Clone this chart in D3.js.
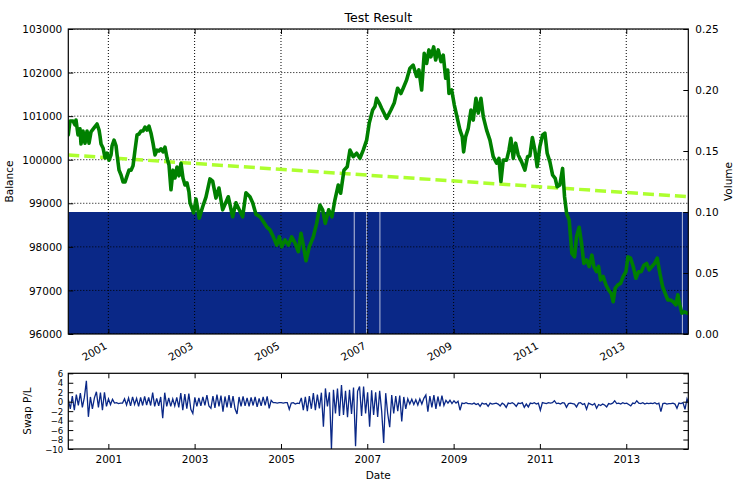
<!DOCTYPE html>
<html><head><meta charset="utf-8">
<script src="https://cdn.jsdelivr.net/npm/d3@7"></script>
<style>
body{margin:0;background:#fff;}
svg{display:block;font-family:"DejaVu Sans",sans-serif;}
</style></head><body>
<svg id="c" width="739" height="492"></svg>
<script>
// ---------- data ----------
const titleText = "Test Result";
const dateDomain = ["2000-01-28", "2014-06-10"];
const yearTicks = [2001, 2003, 2005, 2007, 2009, 2011, 2013];
const balanceTicks = [96000, 97000, 98000, 99000, 100000, 101000, 102000, 103000];
const volumeTicks = [0, 0.05, 0.10, 0.15, 0.20, 0.25];
const swapTicks = [-10, -8, -6, -4, -2, 0, 2, 4, 6];

const balanceYears = [2000.073,2000.113,2000.182,2000.229,2000.252,2000.298,2000.344,2000.368,2000.414,2000.460,2000.507,2000.553,2000.599,2000.669,2000.738,2000.785,2000.808,2000.831,2000.877,2000.924,2000.970,2001.016,2001.062,2001.086,2001.132,2001.178,2001.202,2001.248,2001.294,2001.341,2001.387,2001.433,2001.479,2001.526,2001.572,2001.618,2001.665,2001.711,2001.757,2001.804,2001.850,2001.896,2001.943,2001.989,2002.035,2002.082,2002.128,2002.174,2002.221,2002.267,2002.313,2002.360,2002.406,2002.452,2002.499,2002.545,2002.591,2002.638,2002.684,2002.730,2002.777,2002.823,2002.869,2002.893,2002.978,2003.032,2003.108,2003.187,2003.263,2003.356,2003.418,2003.495,2003.564,2003.650,2003.780,2003.882,2003.958,2004.035,2004.113,2004.190,2004.282,2004.345,2004.421,2004.514,2004.590,2004.669,2004.745,2004.822,2004.901,2004.961,2005.017,2005.093,2005.170,2005.248,2005.325,2005.401,2005.464,2005.517,2005.580,2005.656,2005.749,2005.827,2005.904,2005.966,2006.027,2006.105,2006.182,2006.251,2006.328,2006.383,2006.460,2006.536,2006.599,2006.675,2006.754,2006.830,2006.907,2006.986,2007.046,2007.125,2007.178,2007.217,2007.278,2007.333,2007.449,2007.549,2007.625,2007.704,2007.780,2007.833,2007.912,2007.989,2008.065,2008.144,2008.197,2008.260,2008.320,2008.376,2008.429,2008.475,2008.538,2008.584,2008.644,2008.707,2008.760,2008.816,2008.862,2008.892,2008.955,2009.015,2009.077,2009.147,2009.200,2009.232,2009.279,2009.339,2009.402,2009.455,2009.518,2009.571,2009.633,2009.687,2009.765,2009.842,2009.918,2009.997,2010.050,2010.097,2010.150,2010.229,2010.283,2010.328,2010.382,2010.437,2010.497,2010.576,2010.652,2010.715,2010.768,2010.826,2010.884,2010.937,2010.999,2011.063,2011.116,2011.169,2011.232,2011.294,2011.355,2011.401,2011.463,2011.526,2011.572,2011.619,2011.679,2011.741,2011.804,2011.850,2011.910,2011.966,2012.019,2012.082,2012.142,2012.205,2012.251,2012.313,2012.360,2012.406,2012.466,2012.529,2012.591,2012.652,2012.698,2012.744,2012.807,2012.869,2012.930,2012.992,2013.038,2013.101,2013.161,2013.224,2013.286,2013.347,2013.409,2013.472,2013.532,2013.595,2013.657,2013.717,2013.780,2013.842,2013.903,2013.965,2014.027,2014.088,2014.150,2014.196,2014.243,2014.289,2014.351,2014.413];
const balanceValues = [100570,100890,100890,100800,100910,100570,100710,100360,100660,100380,100660,100380,100640,100730,100820,100680,100540,100360,100270,100040,100150,99990,100110,100320,100450,100320,100110,99760,99650,99490,99490,99630,99760,99760,99860,100220,100570,100590,100660,100660,100750,100680,100770,100610,100380,100110,100220,100200,100250,100180,100290,100040,99880,99310,99760,99580,99830,99630,99920,99580,99420,99470,99260,99010,98780,99100,98660,98920,99140,99560,99510,99120,99350,98850,99150,98690,99010,98850,98690,99240,99150,99010,98750,98690,98580,98460,98390,98230,98040,98230,98000,98160,98040,98230,98090,97890,98310,98040,97680,98000,98230,98540,98960,98850,98540,98850,98690,99080,99420,99230,99760,99840,100220,100070,100150,100030,100220,100450,100840,101140,101220,101410,101300,101180,100950,101140,101300,101640,101520,101640,101830,102100,102170,101910,102060,101600,102440,102210,102520,102360,102590,102290,102520,102250,102400,101870,102060,101520,101600,101260,100990,100680,100530,100180,100530,100720,101140,100910,101410,101070,101410,100990,100680,100450,100070,99920,100030,99500,99990,99990,100220,100490,100030,100380,100110,99950,99760,100070,100090,100510,100220,99840,100300,100570,100610,100150,99950,99650,99570,99380,99420,99800,99150,98770,98620,97850,97770,98230,98450,98080,97620,97700,97550,97810,97550,97430,97550,97240,97320,97130,97010,96930,96740,97050,97130,97160,97320,97430,97770,97740,97550,97280,97430,97430,97580,97620,97470,97550,97620,97740,97390,97090,96930,96780,96780,96740,96670,96900,96670,96480,96510,96480];

const trendYears = [2000.073, 2014.435];
const trendValues = [100108, 99151];

const volumeLevel = 0.10;
const volumeGapYears = [2006.698, 2006.986, 2007.294, 2014.301];

const swapStart = "2000-01-28";
const swapStepDays = 17;
const swapValues = [
 0.5,-1.5,1.2,-1.8,1.5,-0.8,1.8,-1.2,0.9,4.4,
 -3.2,1.0,-1.5,0.8,2.1,-1.2,1.9,-1.8,2.0,-1.0,
 0.6,-0.6,0.5,-0.3,-0.2,-0.4,-0.3,-0.3,0.6,-0.7,
 0.8,-0.9,1.0,-0.6,0.7,-1.0,0.9,-0.8,1.1,-0.7,
 0.9,-0.8,1.9,-1.0,0.7,-0.9,1.0,-3.5,1.9,-1.0,
 0.8,-1.0,0.6,-0.9,0.9,-1.2,1.8,-1.8,1.6,-1.5,
 1.7,-1.6,-2.5,0.9,-1.0,0.8,-0.9,1.0,-0.8,1.4,
 -0.9,-1.4,1.2,-1.3,1.5,-1.0,1.3,-2.1,1.1,-1.2,
 1.4,-1.3,1.2,-1.5,-2.6,1.0,-1.0,1.1,-0.9,0.8,
 -1.0,0.9,-0.8,1.0,-1.1,0.7,-0.9,1.0,-0.8,1.1,
 -1.4,0.3,-0.2,-0.2,-0.3,-0.2,-0.2,-0.3,-0.2,-0.2,
 -1.6,-0.3,-0.2,-0.5,-0.3,-0.4,0.8,-1.8,1.0,-2.0,
 1.2,-1.5,1.8,-1.8,1.5,-1.4,1.9,-5.3,2.8,-1.0,
 2.0,-10,2.5,-2.5,2.8,-3.0,3.5,-2.8,2.3,-3.3,
 2.5,-2.6,3.0,-9.4,2.2,3.2,-3.0,3.2,-2.5,2.0,
 -5.3,2.4,-2.8,2.0,-3.2,2.3,-2.0,-8.7,1.8,-2.5,
 -5.4,1.4,-2.5,1.2,-2.0,1.3,-4.2,1.0,-1.5,0.6,
 -0.5,0.5,-0.6,0.4,-0.7,0.6,-0.5,0.7,1.4,-2.1,
 1.2,-1.2,1.4,-1.5,1.1,-1.0,1.3,-0.8,0.3,-0.3,
 0.3,-0.4,0.2,-0.3,0.1,-1.8,-0.3,-0.4,-0.2,-0.4,
 -0.4,-0.5,-0.3,-0.6,-0.4,-1.0,-0.3,-0.5,-0.4,-1.0,
 -0.3,-0.5,-0.4,-0.3,-0.5,-0.9,-0.3,-0.6,-1.2,-0.3,
 -0.4,-0.2,-0.5,-1.0,-0.3,-0.4,-0.2,-1.2,-0.5,-1.1,
 -0.3,-0.4,-0.2,-0.5,-0.3,-1.8,-0.2,-0.3,-0.4,-0.2,
 -0.3,-0.2,0.2,-0.4,-0.3,-0.5,-0.2,-0.3,-1.2,-0.4,
 -0.3,-0.4,-0.5,-1.1,-0.3,-0.2,-0.6,-0.4,-1.6,-0.3,
 -0.5,-0.7,-0.4,-1.4,-0.6,-0.8,-0.5,-0.7,-1.1,-0.4,
 -0.5,-0.3,0.2,-0.4,-0.3,-0.5,-0.2,-0.4,-0.3,-0.6,
 -0.9,-0.3,-0.4,0.2,-0.3,-0.4,-0.2,-0.5,-0.3,-0.4,
 -0.3,-0.4,-0.2,-0.5,-0.3,-2.1,-0.4,-0.3,-0.5,-0.4,
 -0.4,-0.3,-0.5,-1.4,-0.3,-0.4,-0.2,-1.6,0.6,-0.6
];

// ---------- helpers ----------
function yearToDate(y) {
  const Y = Math.floor(y);
  const s = Date.UTC(Y, 0, 1), e = Date.UTC(Y + 1, 0, 1);
  return new Date(s + (y - Y) * (e - s));
}
const parse = d3.utcParse("%Y-%m-%d");

// ---------- layout ----------
const L = 68.3, R = 688.3;
const mainTop = 29, mainBot = 334;
const subTop = 373.3, subBot = 449;
const BLUE = "#0a2887";
const FS = 10.5;
const FS_SWAP = 8.6;

const svg = d3.select("#c");
const x = d3.scaleUtc().domain(dateDomain.map(parse)).range([L, R]);
const yB = d3.scaleLinear().domain([96000, 103000]).range([mainBot, mainTop]);
const yV = d3.scaleLinear().domain([0, 0.25]).range([mainBot, mainTop]);
const yS = d3.scaleLinear().domain([-10, 6]).range([subBot, subTop]);
const yearDates = yearTicks.map(y => new Date(Date.UTC(y, 0, 1)));

const defs = svg.append("defs");
defs.append("clipPath").attr("id", "clipMain").append("rect")
  .attr("x", L).attr("y", mainTop).attr("width", R - L).attr("height", mainBot - mainTop);
defs.append("clipPath").attr("id", "clipSub").append("rect")
  .attr("x", L).attr("y", subTop).attr("width", R - L).attr("height", subBot - subTop);

// ---------- main panel ----------
const gMain = svg.append("g").attr("clip-path", "url(#clipMain)");

// volume bars (segments between gaps)
const bounds = [x.domain()[0], ...volumeGapYears.map(yearToDate), x.domain()[1]];
const segs = d3.pairs(bounds);
gMain.selectAll("rect.vol").data(segs).join("rect").attr("class", "vol")
  .attr("x", d => x(d[0])).attr("width", d => Math.max(0, x(d[1]) - x(d[0])))
  .attr("y", yV(volumeLevel)).attr("height", yV(0) - yV(volumeLevel))
  .attr("fill", BLUE);
gMain.selectAll("line.gap").data(volumeGapYears).join("line").attr("class", "gap")
  .attr("x1", d => x(yearToDate(d))).attr("x2", d => x(yearToDate(d)))
  .attr("y1", yV(volumeLevel)).attr("y2", yV(0))
  .attr("stroke", "#b3bad6").attr("stroke-width", 1);

// grid
gMain.selectAll("line.gx").data(yearDates).join("line").attr("class", "gx")
  .attr("x1", d => x(d)).attr("x2", d => x(d)).attr("y1", mainTop).attr("y2", mainBot)
  .attr("stroke", "#000").attr("stroke-width", 1).attr("stroke-dasharray", "1,2");
gMain.selectAll("line.gy").data(balanceTicks).join("line").attr("class", "gy")
  .attr("x1", L).attr("x2", R).attr("y1", d => yB(d)).attr("y2", d => yB(d))
  .attr("stroke", "#000").attr("stroke-width", 1).attr("stroke-dasharray", "1,2");

// trend
const trendLine = d3.line().x(d => x(yearToDate(d[0]))).y(d => yB(d[1]));
gMain.append("path").datum(d3.zip(trendYears, trendValues)).attr("d", trendLine)
  .attr("fill", "none").attr("stroke", "#adff2f").attr("stroke-width", 3.5)
  .attr("stroke-dasharray", "11,5");

// balance
gMain.append("path").datum(d3.zip(balanceYears, balanceValues)).attr("d", trendLine)
  .attr("fill", "none").attr("stroke", "#008000").attr("stroke-width", 3.6)
  .attr("stroke-linejoin", "round").attr("stroke-linecap", "round");

// axes
function styleAxis(g, fs) {
  g.select(".domain").remove();
  g.selectAll("line").attr("stroke", "#000");
  g.selectAll("text").attr("fill", "#000").attr("font-size", fs || FS).attr("font-family", "DejaVu Sans, sans-serif");
}
svg.append("g").attr("transform", `translate(${L},0)`)
  .call(d3.axisLeft(yB).tickValues(balanceTicks).tickFormat(d3.format("d")).tickSizeInner(-5).tickSizeOuter(0).tickPadding(6))
  .call(styleAxis).selectAll("text").attr("dy", "0.35em");
svg.append("g").attr("transform", `translate(${R},0)`)
  .call(d3.axisRight(yV).tickValues(volumeTicks).tickFormat(d3.format(".2f")).tickSizeInner(-5).tickSizeOuter(0).tickPadding(7))
  .call(styleAxis).selectAll("text").attr("dy", "0.35em");
const xb = svg.append("g").attr("transform", `translate(0,${mainBot})`)
  .call(d3.axisBottom(x).tickValues(yearDates).tickFormat(d3.utcFormat("%Y")).tickSizeInner(-5).tickSizeOuter(0))
  .call(styleAxis);
xb.selectAll("text").attr("y", 0).attr("dy", 0).attr("text-anchor", "end")
  .attr("transform", "translate(-1,14) rotate(-30)");
svg.append("g").attr("transform", `translate(0,${mainTop})`)
  .call(d3.axisTop(x).tickValues(yearDates).tickFormat("").tickSizeInner(-5).tickSizeOuter(0))
  .call(styleAxis);

svg.append("rect").attr("x", L).attr("y", mainTop).attr("width", R - L).attr("height", mainBot - mainTop)
  .attr("fill", "none").attr("stroke", "#000").attr("stroke-width", 1.2);

// ---------- sub panel ----------
const gSub = svg.append("g").attr("clip-path", "url(#clipSub)");
const s0 = parse(swapStart);
const swapData = swapValues.map((v, i) => [d3.utcDay.offset(s0, i * swapStepDays), v]);
gSub.append("path").datum(swapData)
  .attr("d", d3.line().x(d => x(d[0])).y(d => yS(d[1])))
  .attr("fill", "none").attr("stroke", BLUE).attr("stroke-width", 1.3).attr("stroke-linejoin", "miter");

svg.append("g").attr("transform", `translate(${L},0)`)
  .call(d3.axisLeft(yS).tickValues(swapTicks).tickFormat(d3.format("d")).tickSizeInner(-5).tickSizeOuter(0).tickPadding(5))
  .call(g => styleAxis(g, FS_SWAP)).selectAll("text").attr("dy", "0.35em");
svg.append("g").attr("transform", `translate(${R},0)`)
  .call(d3.axisRight(yS).tickValues(swapTicks).tickFormat("").tickSizeInner(-5).tickSizeOuter(0))
  .call(styleAxis);
svg.append("g").attr("transform", `translate(0,${subBot})`)
  .call(d3.axisBottom(x).tickValues(yearDates).tickFormat(d3.utcFormat("%Y")).tickSizeInner(-5).tickSizeOuter(0).tickPadding(6.5))
  .call(styleAxis);
svg.append("g").attr("transform", `translate(0,${subTop})`)
  .call(d3.axisTop(x).tickValues(yearDates).tickFormat("").tickSizeInner(-5).tickSizeOuter(0))
  .call(styleAxis);
svg.append("rect").attr("x", L).attr("y", subTop).attr("width", R - L).attr("height", subBot - subTop)
  .attr("fill", "none").attr("stroke", "#000").attr("stroke-width", 1.2);

// ---------- labels ----------
svg.append("text").attr("x", (L + R) / 2).attr("y", 21.7).attr("text-anchor", "middle")
  .attr("font-size", 12.6).text(titleText);
svg.append("text").attr("transform", "translate(13,181.5) rotate(-90)").attr("text-anchor", "middle")
  .attr("font-size", FS).text("Balance");
svg.append("text").attr("transform", "translate(731.5,181.5) rotate(-90)").attr("text-anchor", "middle")
  .attr("font-size", FS).text("Volume");
svg.append("text").attr("transform", "translate(30.5,411) rotate(-90)").attr("text-anchor", "middle")
  .attr("font-size", FS).text("Swap P/L");
svg.append("text").attr("x", (L + R) / 2).attr("y", 479).attr("text-anchor", "middle")
  .attr("font-size", FS).text("Date");
</script>
</body></html>
